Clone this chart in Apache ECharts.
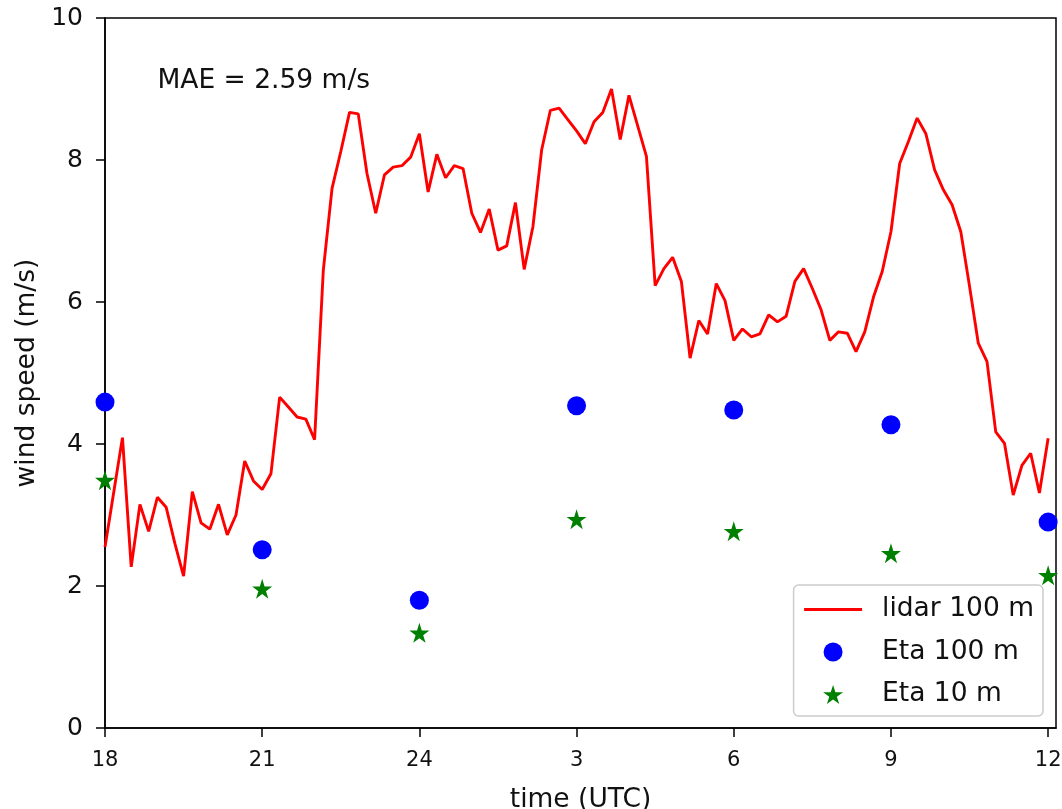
<!DOCTYPE html>
<html><head><meta charset="utf-8">
<script src="https://cdn.jsdelivr.net/npm/echarts@6/dist/echarts.min.js"></script>
<style>html,body{margin:0;padding:0;background:#fff}#c{width:1062px;height:809px}</style>
</head><body><div id="c"></div>
<script>
// ---- data ----
const lidarStepMinutes = 10;
const lidarSpeed = [
  2.55, 3.32, 4.09, 2.27, 3.15, 2.77, 3.25, 3.11, 2.60, 2.14,
  3.33, 2.89, 2.80, 3.15, 2.72, 3.00, 3.76, 3.48, 3.36, 3.58,
  4.66, 4.52, 4.38, 4.35, 4.06, 6.45, 7.60, 8.12, 8.67, 8.65,
  7.81, 7.25, 7.79, 7.90, 7.92, 8.04, 8.37, 7.55, 8.08, 7.75,
  7.92, 7.88, 7.25, 6.98, 7.31, 6.73, 6.79, 7.40, 6.46, 7.06,
  8.14, 8.70, 8.73, 8.57, 8.41, 8.23, 8.54, 8.67, 9.00, 8.29,
  8.91, 8.48, 8.05, 6.23, 6.47, 6.63, 6.29, 5.21, 5.74, 5.55,
  6.26, 6.02, 5.46, 5.62, 5.51, 5.55, 5.82, 5.72, 5.80, 6.29,
  6.47, 6.19, 5.89, 5.46, 5.58, 5.56, 5.30, 5.58, 6.07, 6.43,
  6.99, 7.95, 8.26, 8.59, 8.37, 7.86, 7.58, 7.37, 6.99, 6.22,
  5.42, 5.16, 4.17, 4.01, 3.28, 3.70, 3.87, 3.31, 4.08
];
const etaHours = [0, 3, 6, 9, 12, 15, 18];
const eta100 = [4.59, 2.51, 1.80, 4.54, 4.48, 4.27, 2.90];
const eta10 = [3.49, 1.96, 1.34, 2.94, 2.77, 2.46, 2.15];
const xTickValues = [0, 3, 6, 9, 12, 15, 18];
const xTickLabels = ['18', '21', '24', '3', '6', '9', '12'];
const seriesNames = ['lidar 100 m', 'Eta 100 m', 'Eta 10 m'];
const maeText = 'MAE = 2.59 m/s';
const maeAnchor = [1, 9];

// ---- build ----
const lidarData = lidarSpeed.map((v, i) => [i * lidarStepMinutes / 60, v]);
const eta100Data = etaHours.map((h, i) => [h, eta100[i]]);
const eta10Data = etaHours.map((h, i) => [h, eta10[i]]);
const starPath = 'path://M50,0 L61.23,34.55 L97.55,34.55 L68.16,55.9 L79.39,90.45 L50,69.1 L20.61,90.45 L31.84,55.9 L2.45,34.55 L38.77,34.55 Z';
const FONT = 'DejaVu Sans';
const TXT = '#111';
const BIG = 26.5;

const chart = echarts.init(document.getElementById('c'), null, {renderer: 'canvas'});
chart.setOption({
  animation: false,
  backgroundColor: '#fff',
  textStyle: {fontFamily: FONT, color: TXT},
  grid: {left: 105, right: 6, top: 18, bottom: 81, show: true, borderColor: '#000', borderWidth: 1.5,
         containLabel: false, outerBoundsMode: 'none'},
  xAxis: {
    type: 'value', min: 0, max: 18.15, interval: 3,
    name: 'time (UTC)', nameLocation: 'middle', nameGap: 59,
    nameTextStyle: {fontFamily: FONT, fontSize: BIG, color: TXT},
    axisLine: {show: true, onZero: false, lineStyle: {color: '#000', width: 1.5}},
    axisTick: {show: true, inside: false, length: 9, lineStyle: {color: '#000', width: 1.5}, customValues: xTickValues},
    axisLabel: {
      fontFamily: FONT, fontSize: 21, color: TXT, margin: 22, customValues: xTickValues,
      formatter: v => { const k = xTickValues.indexOf(Math.round(v)); return k >= 0 ? xTickLabels[k] : ''; }
    },
    splitLine: {show: false}
  },
  yAxis: {
    type: 'value', min: 0, max: 10, interval: 2,
    name: 'wind speed (m/s)', nameLocation: 'middle', nameGap: 62,
    nameTextStyle: {fontFamily: FONT, fontSize: BIG, color: TXT},
    axisLine: {show: true, onZero: false, lineStyle: {color: '#000', width: 1.5}},
    axisTick: {show: true, inside: false, length: 9, lineStyle: {color: '#000', width: 1.5}},
    axisLabel: {fontFamily: FONT, fontSize: 25, color: TXT, margin: 22},
    splitLine: {show: false}
  },
  legend: {
    orient: 'vertical', right: 19, bottom: 93,
    data: [
      {name: seriesNames[0], itemStyle: {opacity: 0}, lineStyle: {color: '#ff0000', width: 3}},
      {name: seriesNames[1], icon: 'circle'},
      {name: seriesNames[2], icon: starPath}
    ],
    itemWidth: 58, itemHeight: 19, itemGap: 15.5,
    padding: [11, 9, 8, 9],
    backgroundColor: 'rgba(255,255,255,0.8)',
    borderColor: '#cccccc', borderWidth: 1.5, borderRadius: 5,
    textStyle: {fontFamily: FONT, fontSize: BIG, color: TXT, padding: [0, 0, 0, 15]}
  },
  series: [
    {
      name: seriesNames[0], type: 'line', data: lidarData, showSymbol: false, symbol: 'none',
      lineStyle: {color: '#ff0000', width: 2.9}, itemStyle: {color: '#ff0000'}, z: 2
    },
    {
      name: seriesNames[1], type: 'scatter', data: eta100Data, symbol: 'circle', symbolSize: 19,
      itemStyle: {color: '#0000ff', opacity: 1}, z: 3
    },
    {
      name: seriesNames[2], type: 'scatter', data: eta10Data, symbol: starPath, symbolSize: 20,
      itemStyle: {color: '#008000', opacity: 1}, z: 3
    }
  ]
});

const p = chart.convertToPixel({gridIndex: 0}, maeAnchor);
chart.setOption({
  graphic: [{
    type: 'text', x: p[0], y: p[1] + 6,
    style: {text: maeText, fontFamily: FONT, fontSize: BIG, fill: TXT, align: 'left', verticalAlign: 'bottom'}
  }]
});
</script>
</body></html>
